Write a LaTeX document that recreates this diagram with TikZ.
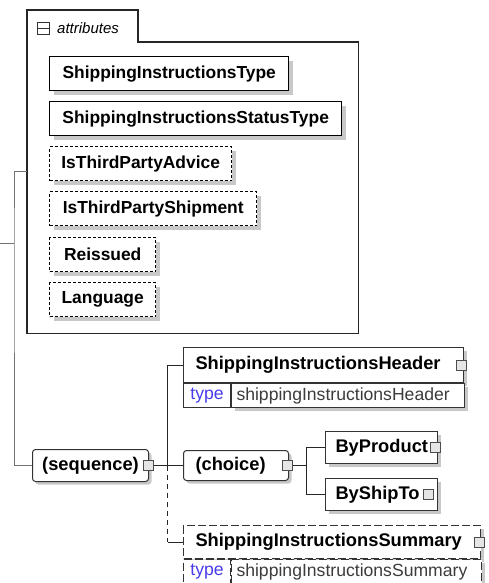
\documentclass[tikz,border=0pt]{standalone}
\usepackage{fontspec}
\setmainfont{Liberation Sans}
\usetikzlibrary{shadows}

\definecolor{typeblue}{RGB}{70,60,235}
\definecolor{valgray}{RGB}{60,60,60}
\definecolor{shadegray}{RGB}{200,200,200}

\tikzset{
  boxshade/.style={drop shadow={shadow xshift=3pt, shadow yshift=-3pt, fill=shadegray, opacity=1}},
  attrbox/.style={draw=black, line width=1.4pt, fill=white, anchor=north west,
    inner sep=0pt, minimum height=34pt,
    font=\fontsize{17.4}{20}\selectfont\bfseries,
    drop shadow={shadow xshift=4pt, shadow yshift=-4pt, fill=shadegray, opacity=1}},
  req/.style={},
  opt/.style={dash pattern=on 3pt off 2pt},
  elem/.style={draw=black!80, line width=1pt, fill=white, anchor=north west,
    inner xsep=12pt, inner ysep=0pt, align=left,
    font=\fontsize{18.3}{21}\selectfont\bfseries, boxshade},
  optelem/.style={dash pattern=on 8pt off 3pt},
  typecell/.style={draw=black!80, line width=1pt, fill=white, anchor=north west,
    inner sep=0pt, minimum height=24pt, font=\fontsize{17.6}{20}\selectfont},
  valcell/.style={typecell, boxshade, text=valgray, inner xsep=5pt, align=left},
  expander/.style={draw=black!70, line width=1pt, fill=black!10, minimum size=10pt, inner sep=0pt},
  conn/.style={draw=black!85, line width=1pt},
  rootconn/.style={draw=black!55, line width=1pt},
}

\begin{document}
\begin{tikzpicture}[x=1pt, y=-1pt]
  \useasboundingbox (0,0) rectangle (488,583);

  % attributes group
  \node[anchor=north west, inner sep=0pt, minimum width=331pt, minimum height=323pt] (attrs) at (27,10) {};
  \draw[draw=black!85, line width=1.5pt] (attrs.south west) -- (attrs.north west) -- ++(111,0) -- ++(0,32) -| (attrs.south east) -- cycle;
  \node[draw=black!80, line width=1pt, minimum size=12pt, inner sep=0pt] (fold) at (43,29) {};
  \draw[line width=1pt, black!80] (fold.west) -- (fold.east);
  \node[anchor=west, inner sep=0pt, font=\fontsize{15}{18}\selectfont\itshape] (attrlbl) at (57,28) {attributes};

  \foreach \n/\yy/\w/\k/\t in {1/56/239/req/ShippingInstructionsType,
      2/101/292/req/ShippingInstructionsStatusType,
      3/146/182/opt/IsThirdPartyAdvice,
      4/191/207/opt/IsThirdPartyShipment,
      5/237/106/opt/Reissued,
      6/282/106/opt/Language}
    \node[attrbox, \k, minimum width=\w pt] (attr\n) at (49,\yy) {\t};

  % sequence content
  \node[elem, inner xsep=8pt, minimum width=116pt, minimum height=32pt, rounded corners=3pt] (seq) at (32,449) {(sequence)};

  \node[elem, text width=256pt, minimum height=35pt] (hdr) at (183,347) {ShippingInstructionsHeader};
  \node[typecell, minimum width=47pt, text=typeblue] (hdrkey) at (hdr.south west) {type};
  \node[valcell, text width=223pt] (hdrval) at (hdrkey.north east) {shippingInstructionsHeader};

  \node[elem, text width=81pt, minimum height=30pt, rounded corners=3pt] (choice) at (183,450) {(choice)};
  \node[elem, inner xsep=10pt, text width=92pt, minimum height=32pt] (bp) at (325,431) {ByProduct};
  \node[elem, inner xsep=10pt, text width=92pt, minimum height=32pt] (bs) at (325,478) {ByShipTo};

  \node[elem, optelem, text width=273pt, minimum height=33pt] (sum) at (183,525) {ShippingInstructionsSummary};
  \node[typecell, optelem, minimum width=47pt, text=typeblue] (sumkey) at (sum.south west) {type};
  \node[valcell, optelem, text width=240pt] (sumval) at (sumkey.north east) {shippingInstructionsSummary};

  \node[expander] (hdrx) at ([xshift=-3pt]hdr.east) {};
  \node[expander] (seqx) at ([xshift=-1pt]seq.east) {};
  \node[expander] (choicex) at ([xshift=-2pt]choice.east) {};
  \node[expander] (bpx) at ([xshift=-3pt]bp.east) {};
  \node[expander] (bsx) at ([xshift=-10pt]bs.east) {};
  \node[expander] (sumx) at ([xshift=-2pt]sum.east) {};

  % connectors
  \coordinate (root) at (0,243);
  \coordinate (rootfork) at (14,243);
  \draw[rootconn] (root) -- (rootfork);
  \draw[rootconn] (attrs.west) -| (rootfork) |- (seq.west);

  \coordinate (seqfork) at ([xshift=14pt]seqx.east);
  \draw[conn] (seqx.east) -- (seqfork) -- (choice.west);
  \draw[conn] (seqfork) |- (hdr.west);
  \coordinate (sumfork) at (seqfork |- sum.west);
  \draw[conn, dash pattern=on 5pt off 4pt] (seqfork) -- (sumfork);
  \draw[conn] (sumfork) -- (sum.west);

  \coordinate (choicefork) at ([xshift=14pt]choicex.east);
  \draw[conn] (choicex.east) -- (choicefork);
  \draw[conn] (bp.west) -| (choicefork) |- (bs.west);
\end{tikzpicture}
\end{document}
